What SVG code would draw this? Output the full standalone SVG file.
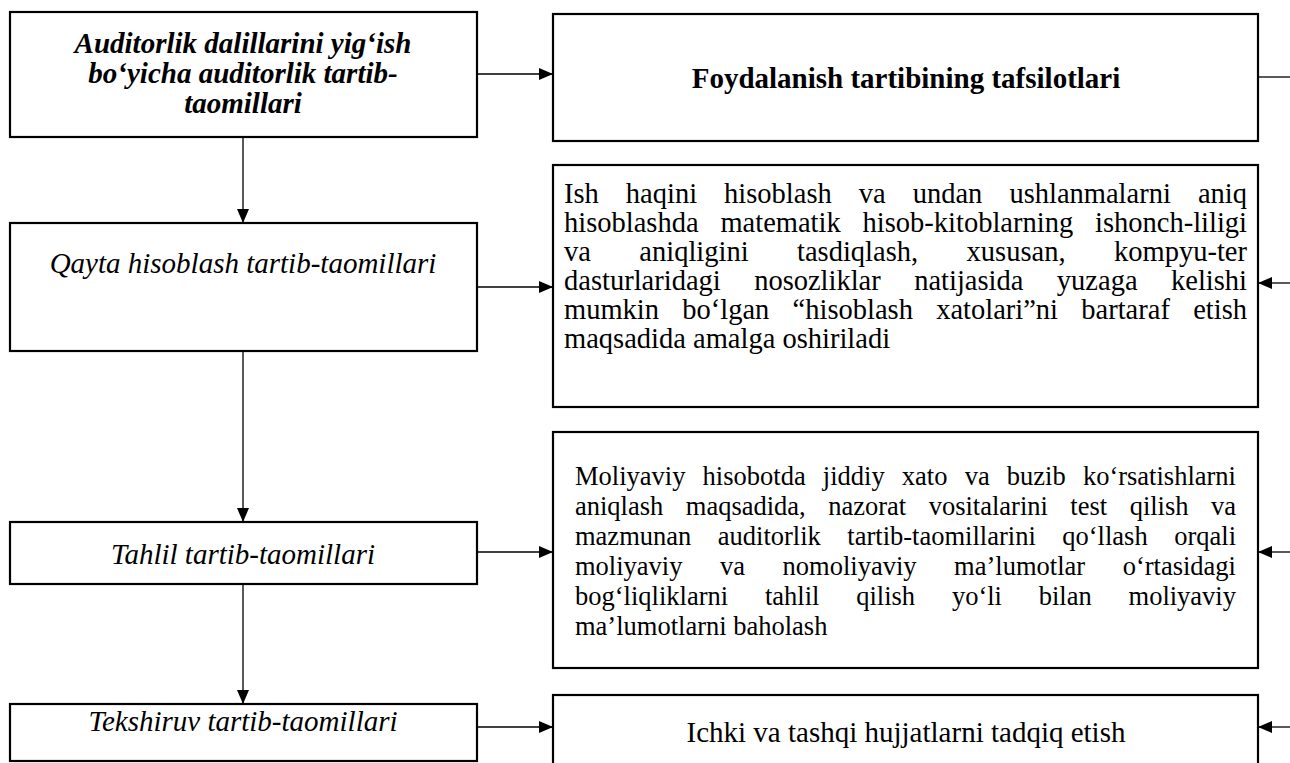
<svg xmlns="http://www.w3.org/2000/svg" width="1290" height="763" viewBox="0 0 1290 763">
<style>
.box{fill:#fff;stroke:#000;stroke-width:2.2}
.con{stroke:#000;stroke-width:1.3;fill:none}
.t{font-family:"Liberation Serif","Times New Roman",serif;fill:#000}
.c{text-anchor:middle}
.bi{font-weight:bold;font-style:italic;font-size:29px}
.b{font-weight:bold;font-size:29px}
.i{font-style:italic;font-size:29px}
.r{font-size:29px}
.p3{font-size:28.5px}
.p4{font-size:26.5px}
</style>
<defs>
<marker id="ah" markerUnits="userSpaceOnUse" markerWidth="14" markerHeight="12" refX="14" refY="6" orient="auto">
<path d="M0,0 L14,6 L0,12 Z" fill="#000"/>
</marker>
</defs>
<rect width="1290" height="763" fill="#fff"/>
<g id="connectors">
<line class="con" x1="477" y1="74" x2="553" y2="74" marker-end="url(#ah)"/>
<line class="con" x1="1258" y1="77" x2="1290" y2="77"/>
<line class="con" x1="243" y1="137" x2="243" y2="223" marker-end="url(#ah)"/>
<line class="con" x1="477" y1="287" x2="553" y2="287" marker-end="url(#ah)"/>
<line class="con" x1="1290" y1="283" x2="1258" y2="283" marker-end="url(#ah)"/>
<line class="con" x1="243" y1="351" x2="243" y2="522" marker-end="url(#ah)"/>
<line class="con" x1="477" y1="552" x2="553" y2="552" marker-end="url(#ah)"/>
<line class="con" x1="1290" y1="552" x2="1258" y2="552" marker-end="url(#ah)"/>
<line class="con" x1="243" y1="584" x2="243" y2="704" marker-end="url(#ah)"/>
<line class="con" x1="477" y1="727" x2="553" y2="727" marker-end="url(#ah)"/>
<line class="con" x1="1290" y1="727" x2="1258" y2="727" marker-end="url(#ah)"/>
</g>
<g id="n1">
<rect class="box" x="10" y="12" width="467" height="125"/>
<text class="t bi c" x="243" y="53">Auditorlik dalillarini yig‘ish</text>
<text class="t bi c" x="243" y="83">bo‘yicha auditorlik tartib-</text>
<text class="t bi c" x="243" y="113">taomillari</text>
</g>
<g id="n2">
<rect class="box" x="553" y="14" width="705" height="127"/>
<text class="t b c" x="906" y="88">Foydalanish tartibining tafsilotlari</text>
</g>
<g id="n3">
<rect class="box" x="10" y="223" width="467" height="128"/>
<text class="t i c" x="243" y="273">Qayta hisoblash tartib-taomillari</text>
</g>
<g id="n4">
<rect class="box" x="553" y="165" width="705" height="242"/>
<text class="t p3" y="203"><tspan x="564">Ish</tspan><tspan x="625.85">haqini</tspan><tspan x="724.12">hisoblash</tspan><tspan x="858.81">va</tspan><tspan x="912.73">undan</tspan><tspan x="1009.4">ushlanmalarni</tspan><tspan x="1197.9">aniq</tspan></text>
<text class="t p3" y="232"><tspan x="564">hisoblashda</tspan><tspan x="720.41">matematik</tspan><tspan x="862.57">hisob-kitoblarning</tspan><tspan x="1094.99">ishonch-liligi</tspan></text>
<text class="t p3" y="261"><tspan x="564">va</tspan><tspan x="639.34">aniqligini</tspan><tspan x="797.05">tasdiqlash,</tspan><tspan x="966.62">xususan,</tspan><tspan x="1114.01">kompyu-ter</tspan></text>
<text class="t p3" y="290"><tspan x="564">dasturlaridagi</tspan><tspan x="754.14">nosozliklar</tspan><tspan x="914.21">natijasida</tspan><tspan x="1056.87">yuzaga</tspan><tspan x="1171">kelishi</tspan></text>
<text class="t p3" y="319"><tspan x="564">mumkin</tspan><tspan x="682.27">bo‘lgan</tspan><tspan x="792.59">“hisoblash</tspan><tspan x="936.17">xatolari”ni</tspan><tspan x="1081.31">bartaraf</tspan><tspan x="1193.17">etish</tspan></text>
<text class="t p3" x="564" y="348">maqsadida amalga oshiriladi</text>
</g>
<g id="n5">
<rect class="box" x="10" y="522" width="467" height="62"/>
<text class="t i c" x="243" y="564">Tahlil tartib-taomillari</text>
</g>
<g id="n6">
<rect class="box" x="553" y="432" width="705" height="236"/>
<text class="t p4" y="485"><tspan x="575">Moliyaviy</tspan><tspan x="702.6">hisobotda</tspan><tspan x="822.83">jiddiy</tspan><tspan x="901.85">xato</tspan><tspan x="964.65">va</tspan><tspan x="1006.84">buzib</tspan><tspan x="1082.89">ko‘rsatishlarni</tspan></text>
<text class="t p4" y="515"><tspan x="575">aniqlash</tspan><tspan x="685.78">maqsadida,</tspan><tspan x="828.21">nazorat</tspan><tspan x="928.66">vositalarini</tspan><tspan x="1070.37">test</tspan><tspan x="1129.64">qilish</tspan><tspan x="1211.01">va</tspan></text>
<text class="t p4" y="545"><tspan x="575">mazmunan</tspan><tspan x="717.79">auditorlik</tspan><tspan x="847.36">tartib-taomillarini</tspan><tspan x="1062.31">qo‘llash</tspan><tspan x="1174.2">orqali</tspan></text>
<text class="t p4" y="575"><tspan x="575">moliyaviy</tspan><tspan x="720.02">va</tspan><tspan x="782.58">nomoliyaviy</tspan><tspan x="954.1">ma’lumotlar</tspan><tspan x="1122.66">o‘rtasidagi</tspan></text>
<text class="t p4" y="605"><tspan x="575">bog‘liqliklarni</tspan><tspan x="764.91">tahlil</tspan><tspan x="856.18">qilish</tspan><tspan x="951.88">yo‘li</tspan><tspan x="1038.73">bilan</tspan><tspan x="1128.52">moliyaviy</tspan></text>
<text class="t p4" x="575" y="635">ma’lumotlarni baholash</text>
</g>
<g id="n7">
<rect class="box" x="10" y="704" width="467" height="57"/>
<text class="t i c" x="243" y="731">Tekshiruv tartib-taomillari</text>
</g>
<g id="n8">
<rect class="box" x="553" y="695" width="705" height="80"/>
<text class="t r c" x="906" y="742">Ichki va tashqi hujjatlarni tadqiq etish</text>
</g>
</svg>
